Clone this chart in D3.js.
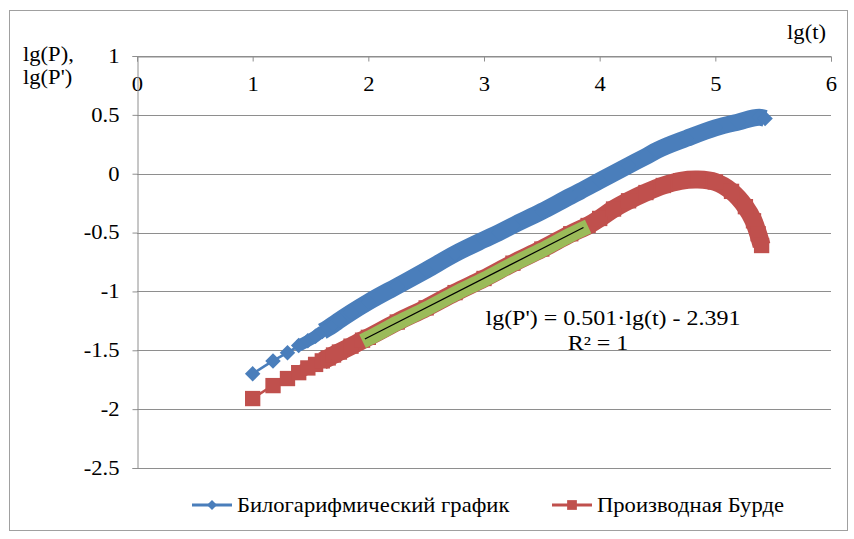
<!DOCTYPE html>
<html>
<head>
<meta charset="utf-8">
<script src="https://cdn.jsdelivr.net/npm/d3@7"></script>
<style>
  body { margin: 0; background: #fff; }
  svg text { font-family: "Liberation Serif", "Times New Roman", serif; fill: #000; }
</style>
</head>
<body>
<svg id="chart" width="854" height="539"></svg>
<script>
// lg(t) / lg(P)
var bilogX = [1.0, 1.176, 1.301, 1.398, 1.477, 1.544, 1.602, 1.653, 1.699, 1.75, 1.85, 2.0, 2.25, 2.5, 2.75,
  3.0, 3.13, 3.25, 3.5, 3.75, 3.83, 4.0, 4.25, 4.4, 4.5, 4.75, 5.0, 5.2, 5.38, 5.43];
var bilogY = [-1.70, -1.59, -1.52, -1.46, -1.42, -1.38, -1.34, -1.31, -1.28, -1.245, -1.18, -1.09, -0.955, -0.82, -0.68,
  -0.56, -0.50, -0.44, -0.32, -0.19, -0.15, -0.06, 0.07, 0.147, 0.20, 0.30, 0.39, 0.44, 0.48, 0.47];

// lg(t) / lg(P') — derivative (Bourdet)
var derivX = [1.0, 1.176, 1.301, 1.398, 1.477, 1.544, 1.602, 1.653, 1.699, 1.75, 1.85, 1.95, 2.0, 2.25, 2.5, 2.75,
  3.0, 3.25, 3.5, 3.75, 3.9, 4.0, 4.12, 4.25, 4.4, 4.55, 4.7, 4.85, 5.0, 5.14, 5.26, 5.33, 5.37, 5.40];
var derivY = [-1.91, -1.80, -1.74, -1.69, -1.65, -1.62, -1.59, -1.565, -1.54, -1.515, -1.465, -1.414, -1.39, -1.26, -1.14, -1.01,
  -0.89, -0.76, -0.64, -0.51, -0.44, -0.38, -0.30, -0.23, -0.16, -0.10, -0.06, -0.05, -0.07, -0.15, -0.28, -0.40, -0.51, -0.61];

// linear trend over the highlighted part of the derivative
var trendSlope = 0.501;
var trendIntercept = -2.391;
var trendSpan = [1.95, 3.9];
var trendLine = [1.97, 3.86];

var xTicks = [0, 1, 2, 3, 4, 5, 6];
var yTicks = [1, 0.5, 0, -0.5, -1, -1.5, -2, -2.5];
var seriesNames = ['Билогарифмический график', 'Производная Бурде'];

var BLUE = '#4a7ebb', RED = '#c0504d', GREEN = '#9bbb59', GRID = '#8e8e8e';
var FS = 20;      // font size
var SX = 1.13;    // the source picture is a bit wider than tall

var svg = d3.select('#chart');

// widen text about its own anchor point
function stretch(sel, k) {
  sel.each(function() {
    var t = d3.select(this);
    var tx = +t.attr('x') || 0, ty = +t.attr('y') || 0;
    t.attr('transform', 'translate(' + tx + ',' + ty + ') scale(' + k + ',1) translate(' + (-tx) + ',' + (-ty) + ')');
  });
}

svg.append('rect')
  .attr('x', 9.5).attr('y', 10.5).attr('width', 838).attr('height', 520)
  .attr('fill', '#fff').attr('stroke', '#a0a0a0').attr('stroke-width', 1);

var x = d3.scaleLinear().domain([0, 6]).range([137, 831]);
var y = d3.scaleLinear().domain([-2.5, 1]).range([468, 56]);

// grid
svg.append('g').selectAll('line')
  .data(yTicks)
  .enter().append('line')
  .attr('x1', x(0)).attr('x2', x(6))
  .attr('y1', function(d) { return Math.round(y(d)) + 0.5; })
  .attr('y2', function(d) { return Math.round(y(d)) + 0.5; })
  .attr('stroke', GRID).attr('stroke-width', 1);

var xAxis = svg.append('g')
  .attr('transform', 'translate(0,' + (Math.round(y(1)) + 0.5) + ')')
  .call(d3.axisBottom(x).tickValues(xTicks).tickSize(5).tickPadding(15).tickFormat(function(d) { return String(d); }));

var yAxis = svg.append('g')
  .attr('transform', 'translate(' + (Math.round(x(0)) + 0.5) + ',0)')
  .call(d3.axisLeft(y).tickValues(yTicks).tickSize(5).tickPadding(13).tickFormat(function(d) { return String(d); }));

[xAxis, yAxis].forEach(function(g) {
  g.select('.domain').attr('stroke', GRID);
  g.selectAll('.tick line').attr('stroke', GRID);
  g.selectAll('.tick text').attr('font-size', FS).call(stretch, SX);
});

function pts(xs, ys) {
  return xs.map(function(v, i) { return [v, ys[i]]; });
}

var line = d3.line()
  .x(function(d) { return x(d[0]); })
  .y(function(d) { return y(d[1]); })
  .curve(d3.curveMonotoneX);

var lineAny = d3.line()
  .x(function(d) { return x(d[0]); })
  .y(function(d) { return y(d[1]); })
  .curve(d3.curveCatmullRom.alpha(0.5));

// where the markers start to run together into a solid band
function bandStart(data, gap) {
  for (var i = 0; i < data.length - 1; i++) {
    var dx = x(data[i + 1][0]) - x(data[i][0]);
    var dy = y(data[i + 1][1]) - y(data[i][1]);
    if (Math.sqrt(dx * dx + dy * dy) < gap) return i;
  }
  return data.length - 1;
}

function drawSeries(data, color, bandW, mSize, rot, curve) {
  var g = svg.append('g');
  var k = bandStart(data, 12);   // markers touching
  var k2 = bandStart(data, 7);   // markers packed tight
  g.append('path')
    .attr('d', curve(data.slice(0, k + 1)))
    .attr('fill', 'none').attr('stroke', color).attr('stroke-width', 2.5);
  g.append('path')
    .attr('d', curve(data.slice(k, k2 + 1)))
    .attr('fill', 'none').attr('stroke', color).attr('stroke-width', bandW - 5);
  g.append('path')
    .attr('d', curve(data.slice(k2)))
    .attr('fill', 'none').attr('stroke', color).attr('stroke-width', bandW)
    .attr('stroke-linejoin', 'round');
  g.selectAll('path.m')
    .data(data)
    .enter().append('path')
    .attr('class', 'm')
    .attr('d', d3.symbol().type(d3.symbolSquare).size(mSize))
    .attr('transform', function(d) {
      return 'translate(' + x(d[0]) + ',' + y(d[1]) + ')' + (rot ? ' rotate(45)' : '');
    })
    .attr('fill', color);
  return g;
}

var bilog = pts(bilogX, bilogY);
var deriv = pts(derivX, derivY);

drawSeries(bilog, BLUE, 17, 120, true, line);
drawSeries(deriv, RED, 18, 235, false, lineAny);

// highlighted fit section
var fitPts = deriv.filter(function(d) { return d[0] >= trendSpan[0] && d[0] <= trendSpan[1]; });
svg.append('path')
  .attr('d', line(fitPts))
  .attr('fill', 'none').attr('stroke', GREEN).attr('stroke-width', 15)
  .attr('transform', 'translate(0,1)');

svg.append('path')
  .datum(trendLine.map(function(v) { return [v, trendSlope * v + trendIntercept]; }))
  .attr('d', d3.line().x(function(d) { return x(d[0]); }).y(function(d) { return y(d[1]); }))
  .attr('fill', 'none').attr('stroke', '#000').attr('stroke-width', 1.2);

// equation label
svg.append('text')
  .attr('x', 613).attr('y', 325)
  .attr('text-anchor', 'middle').attr('font-size', FS)
  .text("lg(P') = " + trendSlope.toFixed(3) + '\u00b7lg(t) - ' + Math.abs(trendIntercept).toFixed(3))
  .call(stretch, 1.2);
svg.append('text')
  .attr('x', 598).attr('y', 350)
  .attr('text-anchor', 'middle').attr('font-size', FS)
  .text('R\u00b2 = 1')
  .call(stretch, 1.2);

// axis titles
svg.append('text').attr('x', 23).attr('y', 61).attr('font-size', FS).text('lg(P),').call(stretch, SX);
svg.append('text').attr('x', 23).attr('y', 84).attr('font-size', FS).text("lg(P')").call(stretch, SX);
svg.append('text').attr('x', 826).attr('y', 39).attr('text-anchor', 'end').attr('font-size', FS).text('lg(t)').call(stretch, SX);

// legend
var legend = [
  { name: seriesNames[0], color: BLUE, x: 192, diamond: true },
  { name: seriesNames[1], color: RED, x: 552, diamond: false }
];
var lg = svg.append('g').attr('transform', 'translate(0,505)');
legend.forEach(function(it) {
  lg.append('line')
    .attr('x1', it.x).attr('x2', it.x + 40).attr('y1', 0).attr('y2', 0)
    .attr('stroke', it.color).attr('stroke-width', 3);
  lg.append('path')
    .attr('d', d3.symbol().type(d3.symbolSquare).size(it.diamond ? 50 : 95))
    .attr('transform', 'translate(' + (it.x + 20) + ',0)' + (it.diamond ? ' rotate(45)' : ''))
    .attr('fill', it.color);
  lg.append('text')
    .attr('x', it.x + 45).attr('y', 7)
    .attr('font-size', FS)
    .text(it.name)
    .call(stretch, SX);
});
</script>
</body>
</html>
